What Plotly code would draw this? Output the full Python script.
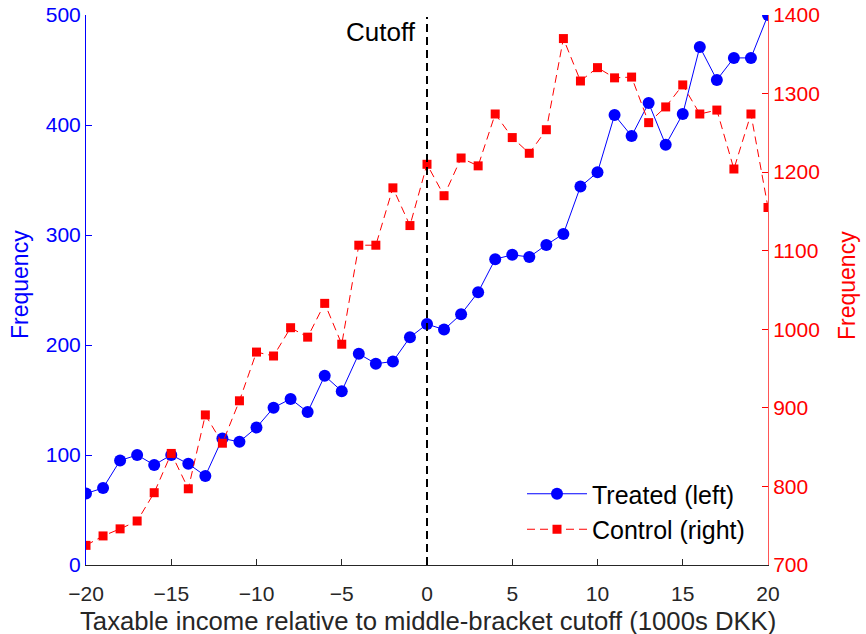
import plotly.graph_objects as go

x_vals = list(range(-20, 21))
treated = [65, 70, 95, 100, 91, 100, 92, 81, 115, 112, 125, 143, 151, 139, 172, 158,
           192, 183, 185, 207, 219, 214, 228, 248, 278, 282, 280, 291, 301, 344, 357,
           409, 390, 420, 382, 410, 471, 441, 461, 461, 500]
control = [725, 737, 746, 756, 792, 842, 797, 891, 855, 909, 971, 966, 1002, 990, 1033, 981,
           1107, 1107, 1180, 1132, 1210, 1170, 1218, 1208, 1274, 1244, 1224, 1254, 1370, 1316,
           1333, 1320, 1321, 1263, 1283, 1311, 1274, 1279, 1204, 1274, 1155]
x_ticks = [-20, -15, -10, -5, 0, 5, 10, 15, 20]
left_ticks = [0, 100, 200, 300, 400, 500]
right_ticks = [700, 800, 900, 1000, 1100, 1200, 1300, 1400]

FONT = "Liberation Sans, Arial, sans-serif"
DARK = "#262626"
W, H = 866, 634
# plot area in page pixels: left 86, right 768, top 15, bottom 565
ML, MR, MT, MB = 86, 866 - 768, 15, 634 - 565
pw = W - ML - MR
ph = H - MT - MB


def px(xp):
    return (xp - ML) / pw


def py(yp):
    return (MT + ph - yp) / ph


fig = go.Figure()
fig.add_trace(go.Scatter(
    x=x_vals, y=treated, name="Treated (left)", mode="lines+markers",
    line=dict(color="#0000FF", width=1),
    marker=dict(symbol="circle", size=12, color="#0000FF"),
    yaxis="y"))
fig.add_trace(go.Scatter(
    x=x_vals, y=control, name="Control (right)", mode="lines+markers",
    line=dict(color="#FF0000", width=1, dash="8px,5px"),
    marker=dict(symbol="square", size=9, color="#FF0000"),
    yaxis="y2"))

fig.add_shape(type="line", xref="x", yref="paper", x0=0, x1=0, y0=0, y1=py(17),
              line=dict(color="black", width=2, dash="8px,5px"))
fig.add_annotation(x=0, xref="x", y=py(32), yref="paper", text="Cutoff", showarrow=False,
                   xanchor="right", yanchor="middle", xshift=-9,
                   font=dict(family=FONT, size=26, color="black"))

fig.add_annotation(x=px(20), y=py(285), xref="paper", yref="paper",
                   text="Frequency", textangle=-90, showarrow=False,
                   xanchor="center", yanchor="middle",
                   font=dict(family=FONT, size=23, color="#0000FF"))
fig.add_annotation(x=px(847), y=py(285), xref="paper", yref="paper",
                   text="Frequency", textangle=-90, showarrow=False,
                   xanchor="center", yanchor="middle",
                   font=dict(family=FONT, size=23, color="#FF0000"))
fig.add_annotation(x=px(428), y=py(621), xref="paper", yref="paper",
                   text="Taxable income relative to middle-bracket cutoff (1000s DKK)",
                   showarrow=False, xanchor="center", yanchor="middle",
                   font=dict(family=FONT, size=25.7, color=DARK))

fig.update_layout(
    width=W, height=H,
    margin=dict(l=ML, r=MR, t=MT, b=MB, autoexpand=False),
    paper_bgcolor="white", plot_bgcolor="white",
    font=dict(family=FONT, color=DARK),
    showlegend=True,
    legend=dict(x=px(750), y=py(552), xanchor="right", yanchor="bottom",
                bgcolor="rgba(0,0,0,0)", font=dict(family=FONT, size=25, color="black"),
                itemwidth=60, tracegroupgap=0),
    xaxis=dict(range=[-20, 20], tickvals=x_ticks, ticks="inside", ticklen=6,
               tickcolor=DARK, showline=True, linecolor=DARK, linewidth=1,
               showgrid=False, zeroline=False, automargin=False,
               ticklabeloverflow="allow", ticklabelstandoff=10,
               tickfont=dict(family=FONT, size=21, color=DARK)),
    yaxis=dict(range=[0, 500], tickvals=left_ticks, ticks="inside", ticklen=6,
               tickcolor="#0000FF", showline=True, linecolor="#0000FF", linewidth=1,
               showgrid=False, zeroline=False, automargin=False,
               ticklabeloverflow="allow",
               tickfont=dict(family=FONT, size=21, color="#0000FF")),
    yaxis2=dict(range=[700, 1400], tickvals=right_ticks, ticks="inside", ticklen=6,
                overlaying="y", side="right", automargin=False,
                ticklabeloverflow="allow",
                tickcolor="#FF0000", showline=True, linecolor="#FF5555", linewidth=1,
                showgrid=False, zeroline=False,
                tickfont=dict(family=FONT, size=21, color="#FF0000")),
)

fig.write_html("out.html", config={"displayModeBar": False},
               post_script="document.body.style.margin='0px';")
